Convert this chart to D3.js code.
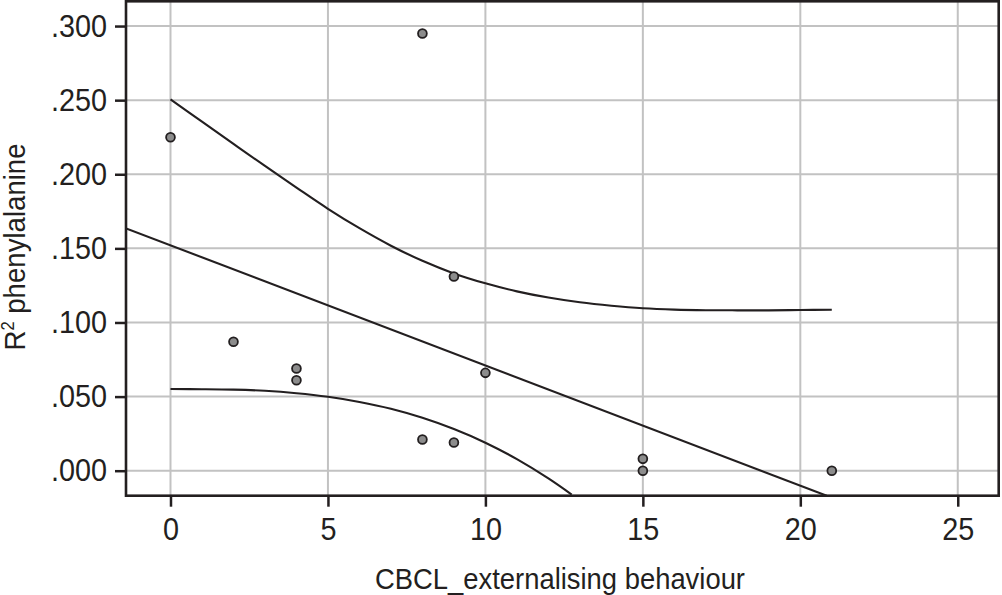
<!DOCTYPE html>
<html>
<head>
<meta charset="utf-8">
<script src="https://cdn.jsdelivr.net/npm/d3@7/dist/d3.min.js"></script>
<style>
  html, body { margin: 0; padding: 0; background: #fff; }
  svg { display: block; }
  text { font-family: "Liberation Sans", Arial, sans-serif; fill: #231f20; }
</style>
</head>
<body>
<svg id="chart" width="1002" height="595"></svg>
<script>
// ---- data ----
const pointX = [0, 8, 2, 4, 4, 9, 10, 8, 9, 15, 15, 21];
const pointY = [0.225, 0.295, 0.087, 0.069, 0.061, 0.131, 0.066, 0.021, 0.019, 0.008, 0.000, 0.000];

const fitX = [-1.41, 20.84];
const fitY = [0.1635, -0.0169];

const upperX = [0, 1, 2, 3, 4, 5, 6, 7, 8, 9, 10, 11, 12, 13, 14, 15, 16, 17, 18, 19, 20, 21];
const upperY = [0.2506, 0.2355, 0.2205, 0.2056, 0.1910, 0.1767, 0.1636, 0.1518, 0.1416, 0.1331,
                0.1264, 0.1210, 0.1168, 0.1136, 0.1113, 0.1096, 0.1087, 0.1083, 0.1082, 0.1082, 0.1084, 0.1086];

const lowerX = [0, 1, 2, 3, 4, 5, 6, 7, 8, 9, 10, 11, 12, 12.74];
const lowerY = [0.0551, 0.0550, 0.0547, 0.0539, 0.0523, 0.0499, 0.0464, 0.0418, 0.0357, 0.0281,
                0.0189, 0.0078, -0.0052, -0.0161];

const xTicks = [0, 5, 10, 15, 20, 25];
const yTicks = [0.000, 0.050, 0.100, 0.150, 0.200, 0.250, 0.300];
const yTickLabels = [".000", ".050", ".100", ".150", ".200", ".250", ".300"];

const xTitle = "CBCL_externalising behaviour";

// ---- layout ----
const svg = d3.select("#chart");
const pL = 126, pR = 998.7, pT = 1.3, pB = 495.7;
const narrow = 0.9;

const x = d3.scaleLinear().domain([-1.413, 26.30]).range([pL, pR]);
const y = d3.scaleLinear().domain([-0.01687, 0.3167]).range([pB, pT]);

svg.append("defs").append("clipPath").attr("id", "clip")
  .append("rect").attr("x", pL).attr("y", pT).attr("width", pR - pL).attr("height", pB - pT);

// grid
const grid = svg.append("g");
grid.selectAll("line.gx").data(xTicks).join("line").attr("class", "gx")
  .attr("x1", d => x(d)).attr("x2", d => x(d)).attr("y1", pT).attr("y2", pB)
  .attr("stroke", "#c2c2c2").attr("stroke-width", 2);
grid.selectAll("line.gy").data(yTicks).join("line").attr("class", "gy")
  .attr("y1", d => y(d)).attr("y2", d => y(d)).attr("x1", pL).attr("x2", pR)
  .attr("stroke", "#c2c2c2").attr("stroke-width", 2);

// axes
const yAxis = d3.axisLeft(y).tickValues(yTicks).tickFormat((d, i) => yTickLabels[i]).tickSize(11).tickPadding(8);
const gy = svg.append("g").attr("transform", `translate(${pL},0)`).call(yAxis);
gy.select(".domain").remove();
gy.selectAll(".tick line").attr("stroke", "#231f20").attr("stroke-width", 2.5);
gy.selectAll(".tick text").attr("font-size", 32).attr("fill", "#231f20")
  .attr("font-family", "'Liberation Sans', Arial, sans-serif")
  .attr("x", -19 / narrow).attr("transform", `scale(${narrow},1)`);

const xAxis = d3.axisBottom(x).tickValues(xTicks).tickFormat(d3.format("d")).tickSize(11).tickPadding(10.5);
const gx = svg.append("g").attr("transform", `translate(0,${pB})`).call(xAxis);
gx.select(".domain").remove();
gx.selectAll(".tick line").attr("stroke", "#231f20").attr("stroke-width", 2.5);
gx.selectAll(".tick text").attr("font-size", 32).attr("fill", "#231f20")
  .attr("font-family", "'Liberation Sans', Arial, sans-serif")
  .attr("transform", `scale(${narrow},1)`);

// curves
const plot = svg.append("g").attr("clip-path", "url(#clip)");
const line = d3.line().x(d => x(d[0])).y(d => y(d[1]));
const smooth = d3.line().x(d => x(d[0])).y(d => y(d[1])).curve(d3.curveCatmullRom.alpha(0.5));

plot.append("path").datum(fitX.map((v, i) => [v, fitY[i]]))
  .attr("d", line).attr("fill", "none").attr("stroke", "#231f20").attr("stroke-width", 2.1);
plot.append("path").datum(upperX.map((v, i) => [v, upperY[i]]))
  .attr("d", smooth).attr("fill", "none").attr("stroke", "#231f20").attr("stroke-width", 2.1);
plot.append("path").datum(lowerX.map((v, i) => [v, lowerY[i]]))
  .attr("d", smooth).attr("fill", "none").attr("stroke", "#231f20").attr("stroke-width", 2.1);

// points
plot.selectAll("circle").data(pointX.map((v, i) => [v, pointY[i]])).join("circle")
  .attr("cx", d => x(d[0])).attr("cy", d => y(d[1])).attr("r", 4.4)
  .attr("fill", "#8c8c8c").attr("stroke", "#231f20").attr("stroke-width", 1.8);

// frame
svg.append("rect").attr("x", pL).attr("y", pT).attr("width", pR - pL).attr("height", pB - pT)
  .attr("fill", "none").attr("stroke", "#231f20").attr("stroke-width", 2.6);

// titles
svg.append("text").attr("x", 560).attr("y", 589).attr("text-anchor", "middle")
  .attr("font-size", 29).attr("textLength", 370).attr("lengthAdjust", "spacingAndGlyphs")
  .text(xTitle);

const yt = svg.append("text").attr("transform", "translate(24.5,247) rotate(-90) scale(0.92,1)")
  .attr("text-anchor", "middle").attr("font-size", 30);
yt.append("tspan").text("R");
yt.append("tspan").attr("font-size", 18).attr("dy", -11).text("2");
yt.append("tspan").attr("dy", 11).text(" phenylalanine");
</script>
</body>
</html>
